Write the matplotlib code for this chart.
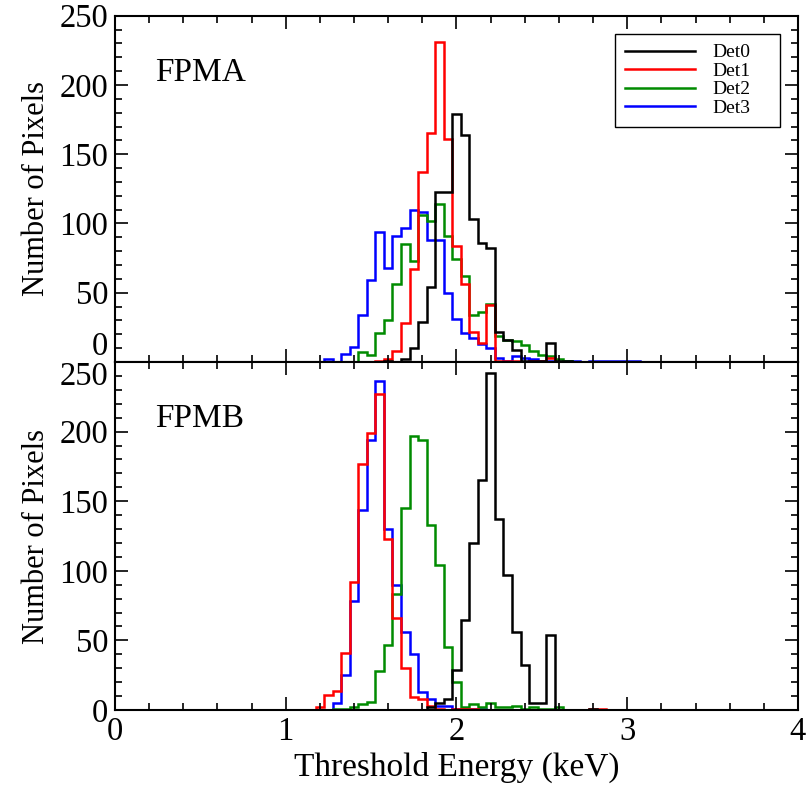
import numpy as np
import matplotlib
matplotlib.use('Agg')
import matplotlib.pyplot as plt
from matplotlib.ticker import MultipleLocator, FixedLocator

plt.rcParams['font.family'] = ['Liberation Serif', 'DejaVu Serif']

# bins of 0.05 keV, centred on 1.15 ... 3.10 keV
bin_width = 0.05
first_center = 1.15
n_bins = 40

# FPMA (upper panel)
fpma_det0 = [0, 0, 0, 0, 0, 0, 0, 0, 0, 1, 0, 2, 10, 29, 54, 123, 123, 179, 164, 103,
             86, 82, 22, 16, 9, 1, 1, 1, 14, 1, 1, 0, 0, 0, 0, 0, 0, 0, 0, 0]
fpma_det1 = [0, 0, 0, 0, 0, 0, 0, 0, 1, 2, 8, 28, 67, 137, 165, 231, 161, 84, 56, 22,
             14, 41, 1, 1, 1, 0, 1, 1, 3, 0, 0, 0, 0, 0, 0, 0, 0, 0, 0, 0]
fpma_det2 = [0, 0, 0, 0, 0, 0, 7, 5, 21, 30, 56, 85, 73, 106, 102, 114, 91, 74, 62, 34,
             36, 42, 19, 16, 15, 12, 8, 5, 4, 2, 1, 0, 0, 0, 0, 0, 0, 0, 0, 0]
fpma_det3 = [0, 0, 2, 0, 6, 11, 34, 59, 94, 68, 91, 97, 110, 108, 88, 88, 50, 31, 21, 17,
             13, 10, 3, 1, 4, 3, 2, 1, 1, 0, 1, 1, 0, 1, 1, 1, 1, 1, 1, 0]

# FPMB (lower panel)
fpmb_det0 = [0, 0, 0, 0, 0, 0, 0, 0, 0, 0, 0, 0, 0, 0, 2, 5, 8, 29, 65, 120,
             165, 242, 137, 97, 56, 32, 5, 5, 54, 0, 0, 0, 0, 1, 0, 0, 0, 0, 0, 0]
fpmb_det1 = [0, 2, 11, 14, 41, 92, 177, 199, 227, 123, 66, 30, 9, 8, 3, 1, 0, 1, 1, 1,
             0, 0, 0, 0, 0, 0, 0, 0, 0, 0, 0, 0, 0, 1, 1, 0, 0, 0, 0, 0]
fpmb_det2 = [0, 0, 0, 1, 1, 2, 4, 6, 28, 47, 83, 145, 197, 194, 133, 104, 45, 20, 2, 4,
             2, 5, 2, 2, 3, 1, 2, 1, 1, 2, 0, 0, 0, 0, 0, 0, 0, 0, 0, 0]
fpmb_det3 = [0, 0, 0, 5, 25, 78, 144, 194, 236, 130, 90, 56, 40, 13, 8, 3, 3, 1, 1, 1,
             1, 0, 0, 0, 0, 0, 0, 0, 0, 0, 0, 0, 0, 0, 0, 0, 0, 0, 0, 0]

labels = ['Det0', 'Det1', 'Det2', 'Det3']
colors = ['black', '#ff0000', '#008b00', '#0000ff']
y_ticks = [0, 50, 100, 150, 200, 250]

edges = first_center - bin_width / 2 + bin_width * np.arange(n_bins + 1)

fig = plt.figure(figsize=(8.07, 7.89), dpi=100)
ax1 = fig.add_axes([0.1425, 0.5412, 0.8463, 0.4389])
ax2 = fig.add_axes([0.1425, 0.1001, 0.8463, 0.4411])

panels = [(ax1, [fpma_det0, fpma_det1, fpma_det2, fpma_det3], 'FPMA'),
          (ax2, [fpmb_det0, fpmb_det1, fpmb_det2, fpmb_det3], 'FPMB')]

for ax, series, name in panels:
    # draw Det3 first so Det0 ends up on top
    for i in [3, 2, 1, 0]:
        ax.stairs(series[i], edges, color=colors[i], linewidth=1.8,
                  label=labels[i], baseline=0)
    ax.set_xlim(0, 4)
    ax.set_ylim(0, 250)
    ax.xaxis.set_major_locator(MultipleLocator(1))
    ax.xaxis.set_minor_locator(MultipleLocator(0.2))
    ax.yaxis.set_major_locator(FixedLocator(y_ticks))
    ax.yaxis.set_minor_locator(MultipleLocator(10))
    ax.tick_params(which='both', direction='in', top=True, right=True, width=1.2)
    ax.tick_params(which='major', length=9.5, labelsize=23.5, pad=5)
    ax.tick_params(which='minor', length=5)
    for s in ax.spines.values():
        s.set_linewidth(1.5)
    ax.set_ylabel('Number of Pixels', fontsize=22, labelpad=6)
    ax.text(0.234, 209, name, fontsize=24, va='center', ha='left')

ax1.tick_params(labelbottom=False)
ax2.set_xlabel('Threshold Energy (keV)', fontsize=24, labelpad=3)

# keep the shared 0 / 250 labels apart at the panel boundary
fig.canvas.draw()
for t in ax1.yaxis.get_major_ticks():
    if t.get_loc() == 0:
        t.label1.set_va('bottom')
for t in ax2.yaxis.get_major_ticks():
    if t.get_loc() == 250:
        t.label1.set_va('top')

leg = ax1.legend(handles=[plt.Line2D([], [], color=c, linewidth=1.8) for c in colors],
                 labels=labels, loc='upper left',
                 bbox_to_anchor=(0.732, 0.6728, 0.2416, 0.2744), mode='expand',
                 borderaxespad=0, fontsize=14, handlelength=3.6, handletextpad=0.9,
                 labelspacing=0.05, borderpad=0.5, fancybox=False,
                 edgecolor='black', framealpha=1)
leg.get_frame().set_linewidth(1.0)

fig.savefig('out.png', dpi=100)
